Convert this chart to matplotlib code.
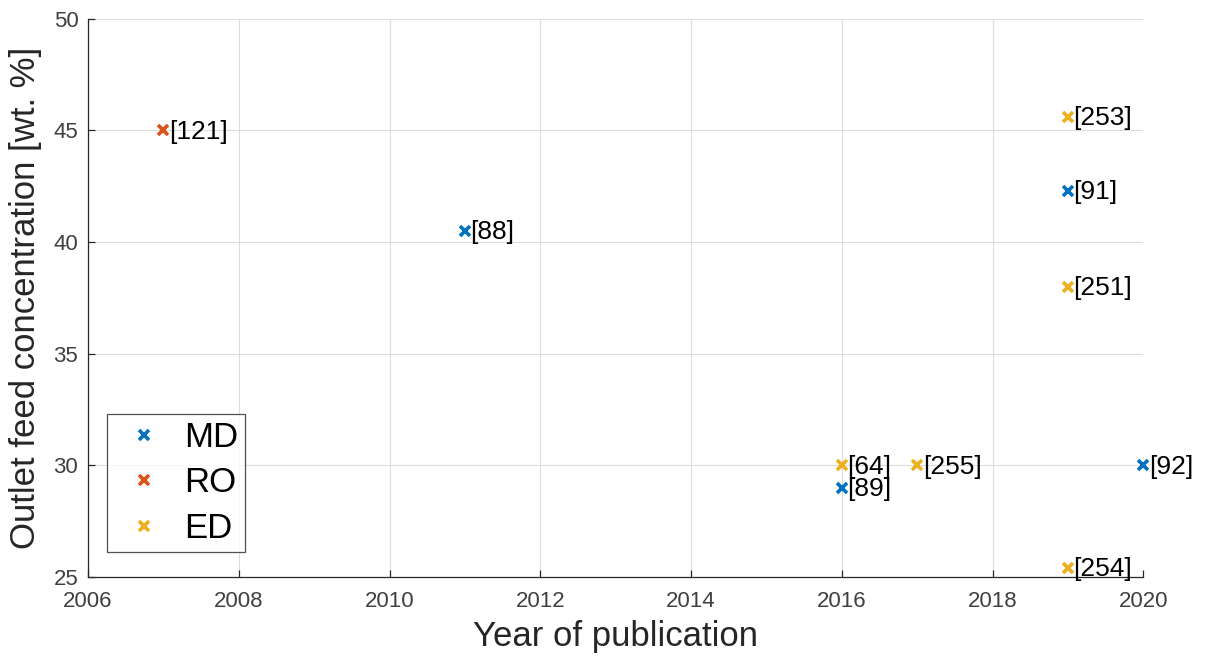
import matplotlib
matplotlib.use("Agg")
import matplotlib.pyplot as plt

plt.rcParams['font.family'] = ['Liberation Sans', 'DejaVu Sans']

# Publications per technology: year, outlet concentration, reference tag
md_year = [2011, 2016, 2019, 2020]
md_conc = [40.5, 29.0, 42.3, 30.0]
md_ref = ["[88]", "[89]", "[91]", "[92]"]

ro_year = [2007]
ro_conc = [45.0]
ro_ref = ["[121]"]

ed_year = [2016, 2017, 2019, 2019, 2019]
ed_conc = [30.0, 30.0, 45.6, 38.0, 25.4]
ed_ref = ["[64]", "[255]", "[253]", "[251]", "[254]"]

x_ticks = [2006, 2008, 2010, 2012, 2014, 2016, 2018, 2020]
y_ticks = [25, 30, 35, 40, 45, 50]

colors = {"MD": "#0072BD", "RO": "#D95319", "ED": "#EDB120"}

fig = plt.figure(figsize=(12.06, 6.59), dpi=100)
ax = fig.add_axes([0.073, 0.1244, 0.875, 0.847])

series = [("MD", md_year, md_conc, md_ref),
          ("RO", ro_year, ro_conc, ro_ref),
          ("ED", ed_year, ed_conc, ed_ref)]

for name, xs, ys, refs in series:
    ax.plot(xs, ys, linestyle='none', marker='x', markersize=7,
            markeredgewidth=2.6, color=colors[name], label=name, zorder=3,
            clip_on=False)
    for x, y, r in zip(xs, ys, refs):
        ax.annotate(r, (x, y), xytext=(4, -1), textcoords='offset points',
                    ha='left', va='center', fontsize=19, color='black',
                    zorder=4, annotation_clip=False)

ax.set_xlim(2006, 2020)
ax.set_ylim(25, 50)
ax.set_xticks(x_ticks)
ax.set_yticks(y_ticks)
ax.grid(True, color='#dcdcdc', linewidth=0.8)
ax.set_axisbelow(True)

for side in ('top', 'right'):
    ax.spines[side].set_visible(False)
for side in ('left', 'bottom'):
    ax.spines[side].set_color('#262626')
    ax.spines[side].set_linewidth(0.9)

ax.tick_params(direction='in', length=5, width=0.9, colors='#262626',
               labelsize=16, labelcolor='#404040')
ax.tick_params(axis='x', pad=10)
ax.tick_params(axis='y', pad=7)

ax.set_xlabel("Year of publication", fontsize=25, color='#262626', labelpad=6)
ax.set_ylabel("Outlet feed concentration [wt. %]", fontsize=25,
              color='#262626', labelpad=8)

leg = ax.legend(loc='lower left', bbox_to_anchor=(0.018, 0.045), fontsize=25,
                frameon=True, fancybox=False, handlelength=1.73,
                handletextpad=0.29, borderpad=0.2, labelspacing=0.36,
                borderaxespad=0)
leg.get_frame().set_edgecolor('#262626')
leg.get_frame().set_linewidth(0.9)
for h in leg.legend_handles:
    h.set_markersize(7)
    h.set_markeredgewidth(2.6)

fig.savefig("out.png", dpi=100)
